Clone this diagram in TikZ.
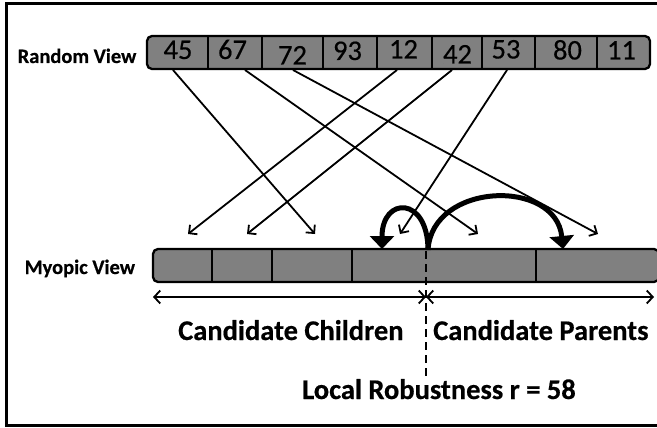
\documentclass[tikz,border=0pt]{standalone}
\usepackage{fontspec}
\setmainfont{Carlito}
\usetikzlibrary{arrows.meta}
\definecolor{barGray}{RGB}{128,128,128}
\begin{document}
\begin{tikzpicture}[x=1pt,y=-1pt,
  bar/.style={draw=black, line width=2.3pt, fill=barGray, rounded corners=5pt, inner sep=0pt},
  divider/.style={line width=2.2pt},
  num/.style={font=\fontsize{28.5}{28.5}\selectfont\addfontfeature{FakeBold=0.4}, inner sep=0pt, anchor=base},
  lbl/.style={font=\bfseries\fontsize{20.5}{20.5}\selectfont\addfontfeature{FakeBold=0.5}, inner sep=0pt, anchor=base west},
  big/.style={font=\bfseries\fontsize{28.5}{28.5}\selectfont\addfontfeature{FakeBold=0.5}, inner sep=0pt, anchor=base west},
  link/.style={line width=1.8pt, -{Straight Barb[length=6pt,width=12pt]}},
  jump/.style={line width=5pt, -{Triangle[length=13pt,width=24pt]}},
  span/.style={line width=1.8pt, {Straight Barb[length=6pt,width=13pt]}-{Straight Barb[length=6pt,width=13pt]}},
  cut/.style={line width=2.2pt, dash pattern=on 8pt off 5pt},
  frame/.style={line width=3.5pt}
]
\useasboundingbox (0,0) rectangle (657,428);
% frame
\draw[frame] (660,3.5) -- (6.5,3.5) -- (6.5,425.5) -- (660,425.5);

% labels
\node[lbl] (lrv) at (17.5,63) {Random View};
\node[lbl] (lmv) at (24.5,274) {Myopic View};

% random view bar
\node[bar, minimum width=503pt, minimum height=33pt] (rv) at (398.5,52.5) {};
\foreach \x in {208,262,323,377,432,482,535,597}
  \draw[divider] (\x,36) -- (\x,69);
\node[num] (n45) at (178,59) {45};
\node[num] (n67) at (232.5,59) {67};
\node[num] (n72) at (292.5,64.5) {72};
\node[num] (n93) at (347.5,60) {93};
\node[num] (n12) at (403.5,58.5) {12};
\node[num] (n42) at (457.5,63.5) {42};
\node[num] (n53) at (506,58.5) {53};
\node[num] (n80) at (567.5,59.5) {80};
\node[num] (n11) at (621.5,59.5) {11};

% myopic view bar
\node[bar, minimum width=506pt, minimum height=33pt] (mv) at (406,265.5) {};
\foreach \x in {212,272,352,536}
  \draw[divider] (\x,249) -- (\x,282);

% link endpoints
\coordinate (s45) at (173,70);
\coordinate (s67) at (245,70);
\coordinate (s72) at (293,70);
\coordinate (s12) at (397,70);
\coordinate (s42) at (452,70);
\coordinate (s53) at (507,70);
\coordinate (e1) at (188,234);
\coordinate (e2) at (247,234);
\coordinate (e3) at (315,234);
\coordinate (e4) at (400,234);
\coordinate (e5) at (478,234);
\coordinate (e6) at (598,234);

\draw[link] (s45) -- (e3);
\draw[link] (s67) -- (e5);
\draw[link] (s72) -- (e6);
\draw[link] (s12) -- (e1);
\draw[link] (s42) -- (e2);
\draw[link] (s53) -- (e4);

% split point and jumps
\coordinate (split) at (428,250);
\coordinate (jl) at (382,249);
\coordinate (jr) at (563,249);
\draw[jump] (split) .. controls (428,196) and (382,196) .. (jl);
\draw[jump] (split) .. controls (432,182) and (556,178) .. (jr);

% dashed cut line
\coordinate (cuttop) at (426,251);
\coordinate (cutbot) at (426,378);
\draw[cut] (cuttop) -- (cutbot);

% spans
\coordinate (sl) at (153,297);
\coordinate (sm) at (426,297);
\coordinate (sr) at (654,297);
\draw[span] (sl) -- (sm);
\draw[span] (sm) -- (sr);

% bottom texts
\node[big] (cc) at (178,340) {Candidate Children};
\node[big] (cp) at (433,340) {Candidate Parents};
\node[big] (lr) at (302,399) {Local Robustness r = 58};
\end{tikzpicture}
\end{document}
